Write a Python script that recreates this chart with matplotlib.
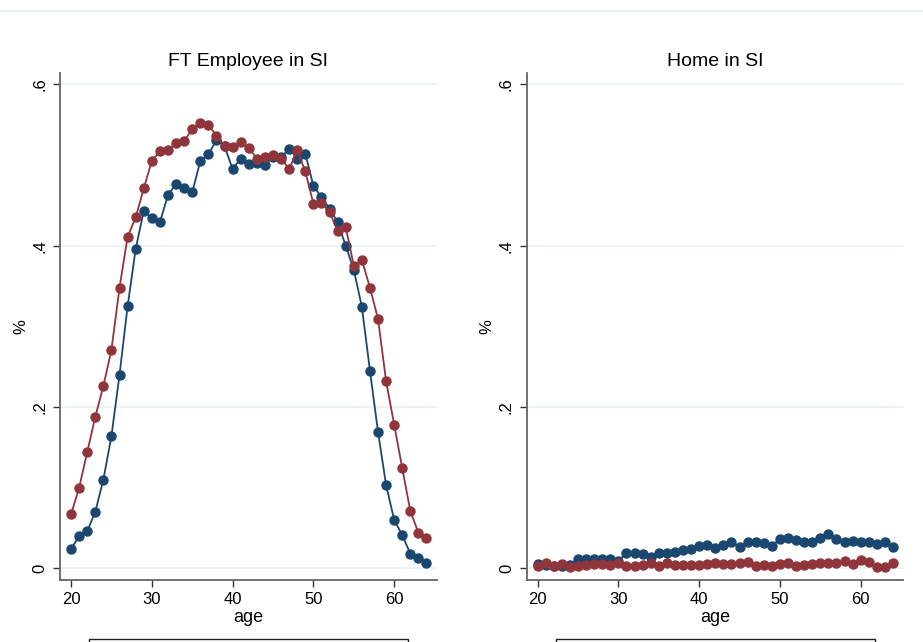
import matplotlib.pyplot as plt
from matplotlib.patches import Rectangle
from matplotlib.lines import Line2D

plt.rcParams['font.family'] = ['Liberation Sans', 'DejaVu Sans']

ages = list(range(20, 65))

# FT Employee in SI
ft_blue = [0.024, 0.040, 0.046, 0.070, 0.110, 0.164, 0.240, 0.325, 0.396, 0.443,
           0.434, 0.429, 0.463, 0.476, 0.471, 0.466, 0.505, 0.513, 0.531, 0.523,
           0.495, 0.508, 0.501, 0.503, 0.500, 0.510, 0.510, 0.520, 0.508, 0.514,
           0.474, 0.460, 0.446, 0.429, 0.400, 0.370, 0.324, 0.245, 0.169, 0.103,
           0.060, 0.041, 0.018, 0.013, 0.007]
ft_red = [0.067, 0.100, 0.144, 0.188, 0.226, 0.271, 0.348, 0.411, 0.435, 0.471,
          0.505, 0.517, 0.519, 0.527, 0.530, 0.544, 0.552, 0.550, 0.536, 0.524,
          0.522, 0.528, 0.521, 0.508, 0.510, 0.512, 0.508, 0.495, 0.518, 0.492,
          0.452, 0.453, 0.442, 0.418, 0.423, 0.375, 0.382, 0.348, 0.309, 0.232,
          0.178, 0.124, 0.071, 0.044, 0.037]

# Home in SI
home_blue = [0.005, 0.004, 0.003, 0.003, 0.004, 0.011, 0.011, 0.011, 0.012, 0.012,
             0.009, 0.019, 0.019, 0.018, 0.014, 0.019, 0.019, 0.020, 0.023, 0.024,
             0.028, 0.029, 0.025, 0.029, 0.032, 0.027, 0.032, 0.032, 0.031, 0.028,
             0.036, 0.038, 0.035, 0.032, 0.032, 0.038, 0.043, 0.036, 0.032, 0.034,
             0.032, 0.032, 0.030, 0.033, 0.026]
home_red = [0.003, 0.006, 0.003, 0.005, 0.002, 0.003, 0.004, 0.005, 0.005, 0.004,
            0.007, 0.003, 0.003, 0.004, 0.007, 0.003, 0.006, 0.004, 0.004, 0.004,
            0.004, 0.005, 0.006, 0.005, 0.005, 0.006, 0.008, 0.003, 0.004, 0.003,
            0.005, 0.006, 0.003, 0.004, 0.005, 0.007, 0.007, 0.006, 0.009, 0.005,
            0.010, 0.008, 0.002, 0.002, 0.006]

titles = ['FT Employee in SI', 'Home in SI']
panels = [(ft_blue, ft_red), (home_blue, home_red)]
yticks = [0, 0.2, 0.4, 0.6]
ytick_labels = ['0', '.2', '.4', '.6']
xticks = [20, 30, 40, 50, 60]

BLUE = '#1a476f'
RED = '#90353b'
GRID = '#eaf2f3'

fig = plt.figure(figsize=(9.23, 6.42), dpi=100)
lefts = [60 / 923, 526.5 / 923]

for i in range(2):
    ax = fig.add_axes([lefts[i], 1 - 580 / 642, 377 / 923, 507 / 642])
    blue, red = panels[i]
    for y in yticks:
        ax.axhline(y, color=GRID, lw=1.4, zorder=0)
    ax.plot(ages, blue, '-o', color=BLUE, lw=1.3, ms=6.5, zorder=2)
    ax.plot(ages, red, '-o', color=RED, lw=1.3, ms=6.5, zorder=3)
    ax.set_xlim(18.63, 65.3)
    ax.set_ylim(-0.0145, 0.614)
    ax.set_yticks(yticks)
    ax.set_yticklabels(ytick_labels, rotation=90, va='center', fontsize=12)
    ax.set_xticks(xticks)
    ax.set_xticklabels([str(t) for t in xticks], fontsize=12)
    ax.tick_params(direction='out', length=5, width=1, color='#333333', pad=4)
    ax.tick_params(axis='x', pad=4)
    for side in ['top', 'right']:
        ax.spines[side].set_visible(False)
    for side in ['left', 'bottom']:
        ax.spines[side].set_color('#666666')
        ax.spines[side].set_linewidth(1.3)
    ax.set_title(titles[i], fontsize=14, pad=5)
    ax.set_xlabel('age', fontsize=13, labelpad=1)
    ax.set_ylabel('%', fontsize=12, labelpad=3)

    # legend frame below each panel, cut off at the figure edge
    fig.patches.append(Rectangle(((89 + 466.5 * i) / 923, -0.05), 319 / 923, 0.05 + (642 - 639) / 642,
                                 transform=fig.transFigure, fill=False, ec='#222222', lw=1))

fig.lines.append(Line2D([0, 1], [1 - 11 / 642, 1 - 11 / 642], transform=fig.transFigure,
                        color='#e6ecec', lw=1.2))

fig.savefig('out.png', dpi=100)
